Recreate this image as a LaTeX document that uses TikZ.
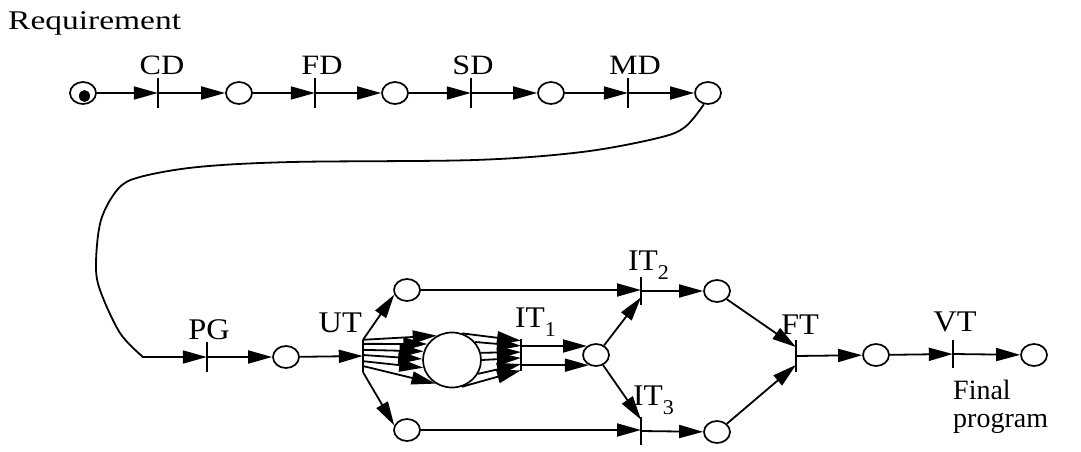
\documentclass[tikz,border=0pt]{standalone}
\usepackage{fontspec}
\setmainfont{Liberation Serif}
\usepackage{graphicx}
\usetikzlibrary{arrows.meta,shapes.geometric,calc}

% widened serif lettering and lowered subscripts
\newcommand\wtext[2][1.15]{\scalebox{#1}[1]{#2}}
\newcommand\subidx[1]{\raisebox{-0.28em}{\fontsize{21pt}{23pt}\selectfont #1}}

\tikzset{
  place/.style={draw, ellipse, minimum width=26pt, minimum height=22pt,
                inner sep=0pt, line width=1.7pt},
  trans/.style={rectangle, minimum width=0pt, inner sep=0pt},
  bar/.style={line width=1.9pt},
  arc/.style={line width=1.8pt, -{Triangle[length=24pt,width=13pt]}},
  labtop/.style={inner sep=0pt, font=\fontsize{28pt}{30pt}\selectfont},
  lablow/.style={inner sep=0pt, font=\fontsize{30pt}{32pt}\selectfont},
}

\begin{document}
\begin{tikzpicture}[x=1pt, y=-1pt]
\useasboundingbox (0,0) rectangle (1081,452);

% ---- design phase (top row)
\node[place] (p1) at (83,93) {};
\node[trans, minimum height=30pt] (cd) at (158,93) {};
\node[place] (p2) at (239,93) {};
\node[trans, minimum height=30pt] (fd) at (315,93) {};
\node[place] (p3) at (395,93) {};
\node[trans, minimum height=30pt] (sd) at (471,93) {};
\node[place] (p4) at (551,93) {};
\node[trans, minimum height=30pt] (md) at (628,93) {};
\node[place] (p5) at (708,93) {};

\fill ($(p1.center)+(1.5,3)$) ellipse (5.5pt and 6pt);

% ---- programming and testing (bottom part)
\coordinate (bend) at (143,357);
\node[trans, minimum height=29pt] (pg) at (207,357) {};
\node[place] (p6) at (286,357) {};
\node[trans, minimum height=32pt] (ut) at (363,356) {};
\node[place] (pu) at (407,290) {};
\node[place] (pl) at (407,430) {};
\node[draw, ellipse, minimum width=58pt, minimum height=55pt, inner sep=0pt,
      line width=1.7pt] (ell) at (452,360) {};
\node[trans, minimum height=32pt] (it1) at (521,355) {};
\node[place] (pm) at (596,355) {};
\node[trans, minimum height=28pt] (it2) at (641,291) {};
\node[trans, minimum height=28pt] (it3) at (641,431) {};
\node[place] (p2r) at (717,291) {};
\node[place] (p3r) at (717,432) {};
\node[trans, minimum height=32pt] (ft) at (796,356) {};
\node[place] (pf) at (876,355) {};
\node[trans, minimum height=28pt] (vt) at (953,354) {};
\node[place] (pfin) at (1034,355) {};

% transition bars
\foreach \t in {cd,fd,sd,md,pg,ut,it1,it2,it3,ft,vt}
  \draw[bar] (\t.north) -- (\t.south);

% ---- arcs of the top row
\draw[arc] (p1) -- (cd);
\draw[arc] (cd) -- (p2);
\draw[arc] (p2) -- (fd);
\draw[arc] (fd) -- (p3);
\draw[arc] (p3) -- (sd);
\draw[arc] (sd) -- (p4);
\draw[arc] (p4) -- (md);
\draw[arc] (md) -- (p5);

% long connection down to programming
\draw[arc] plot[smooth, tension=0.55] coordinates {(p5.250) (685,127) (658,138)
   (582,152) (475,160) (292,162) (198,167) (140,177) (118,189) (101,220)
   (96,263) (100,290) (120,333) (bend)} -- (pg);

\draw[arc] (pg) -- (p6);
\draw[arc] (p6) -- (ut);
\draw[arc] (ut.north) -- (pu.200);
\draw[arc] (ut.south) -- (pl.160);

% unit tests fan into and out of the module
\foreach \f/\a in {0/122, 0.125/147, 0.31/163, 0.47/178, 0.66/195, 0.81/235}
  \draw[arc] ($(ut.north)!\f!(ut.south)$) -- (ell.\a);
\foreach \a/\f in {69/0.06, 38/0.22, 14/0.41, 0/0.59, 332/0.78, 290/0.97}
  \draw[arc] (ell.\a) -- ($(it1.north)!\f!(it1.south)$);

\draw[arc] (it1.center |- pm.135) -- (pm.135);
\draw[arc] (it1.center |- pm.235) -- (pm.235);

\draw[arc] (pu) -- (pu -| it2);
\draw[arc] (pl) -- (pl -| it3);
\draw[arc] (pm.50) -- ($(it2.center)!0.45!(it2.south)$);
\draw[arc] (pm.305) -- ($(it3.center)!0.8!(it3.north)$);
\draw[arc] (it2) -- (p2r);
\draw[arc] (it3) -- (p3r);
\draw[arc] (p2r.320) -- ($(ft.center)!0.55!(ft.north)$);
\draw[arc] (p3r.40) -- ($(ft.center)!0.55!(ft.south)$);
\draw[arc] (ft) -- (pf);
\draw[arc] (pf) -- (vt);
\draw[arc] (vt) -- (pfin);

% ---- labels
\node[labtop, font=\fontsize{27pt}{30pt}\selectfont, anchor=base west] (req)
  at (8,30) {\wtext[1.24]{Requirement}};
\node[labtop, anchor=south] (lcd) at ($(cd.north)+(4,-3)$) {\wtext{CD}};
\node[labtop, anchor=south] (lfd) at ($(fd.north)+(7,-3)$) {\wtext{FD}};
\node[labtop, anchor=south] (lsd) at ($(sd.north)+(2,-3)$) {\wtext{SD}};
\node[labtop, anchor=south] (lmd) at ($(md.north)+(7,-3)$) {\wtext{MD}};
\node[lablow, anchor=south] (lpg) at ($(pg.north)+(2,-2)$) {\wtext[1.08]{PG}};
\node[lablow, anchor=base east] (lut) at ($(ut.north)+(-1,-7)$) {\wtext[1.08]{UT}};
\node[lablow, anchor=base west] (lit1) at ($(it1.north)+(-6,-11)$) {\wtext[1.05]{IT\subidx{1}}};
\node[lablow, anchor=base west] (lit2) at ($(it2.north)+(-13,-6)$) {\wtext[1.05]{IT\subidx{2}}};
\node[lablow, anchor=base west] (lit3) at ($(it3.north)+(-8,-11)$) {\wtext[1.05]{IT\subidx{3}}};
\node[lablow, anchor=south] (lft) at ($(ft.north)+(4,-5)$) {\wtext[1.08]{FT}};
\node[lablow, anchor=south] (lvt) at ($(vt.north)+(2,-8)$) {\wtext[1.08]{VT}};
\node[inner sep=0pt, font=\fontsize{28pt}{28pt}\selectfont, align=left,
      anchor=north west] (fin) at (953,379.5) {Final\\program};
\end{tikzpicture}
\end{document}
